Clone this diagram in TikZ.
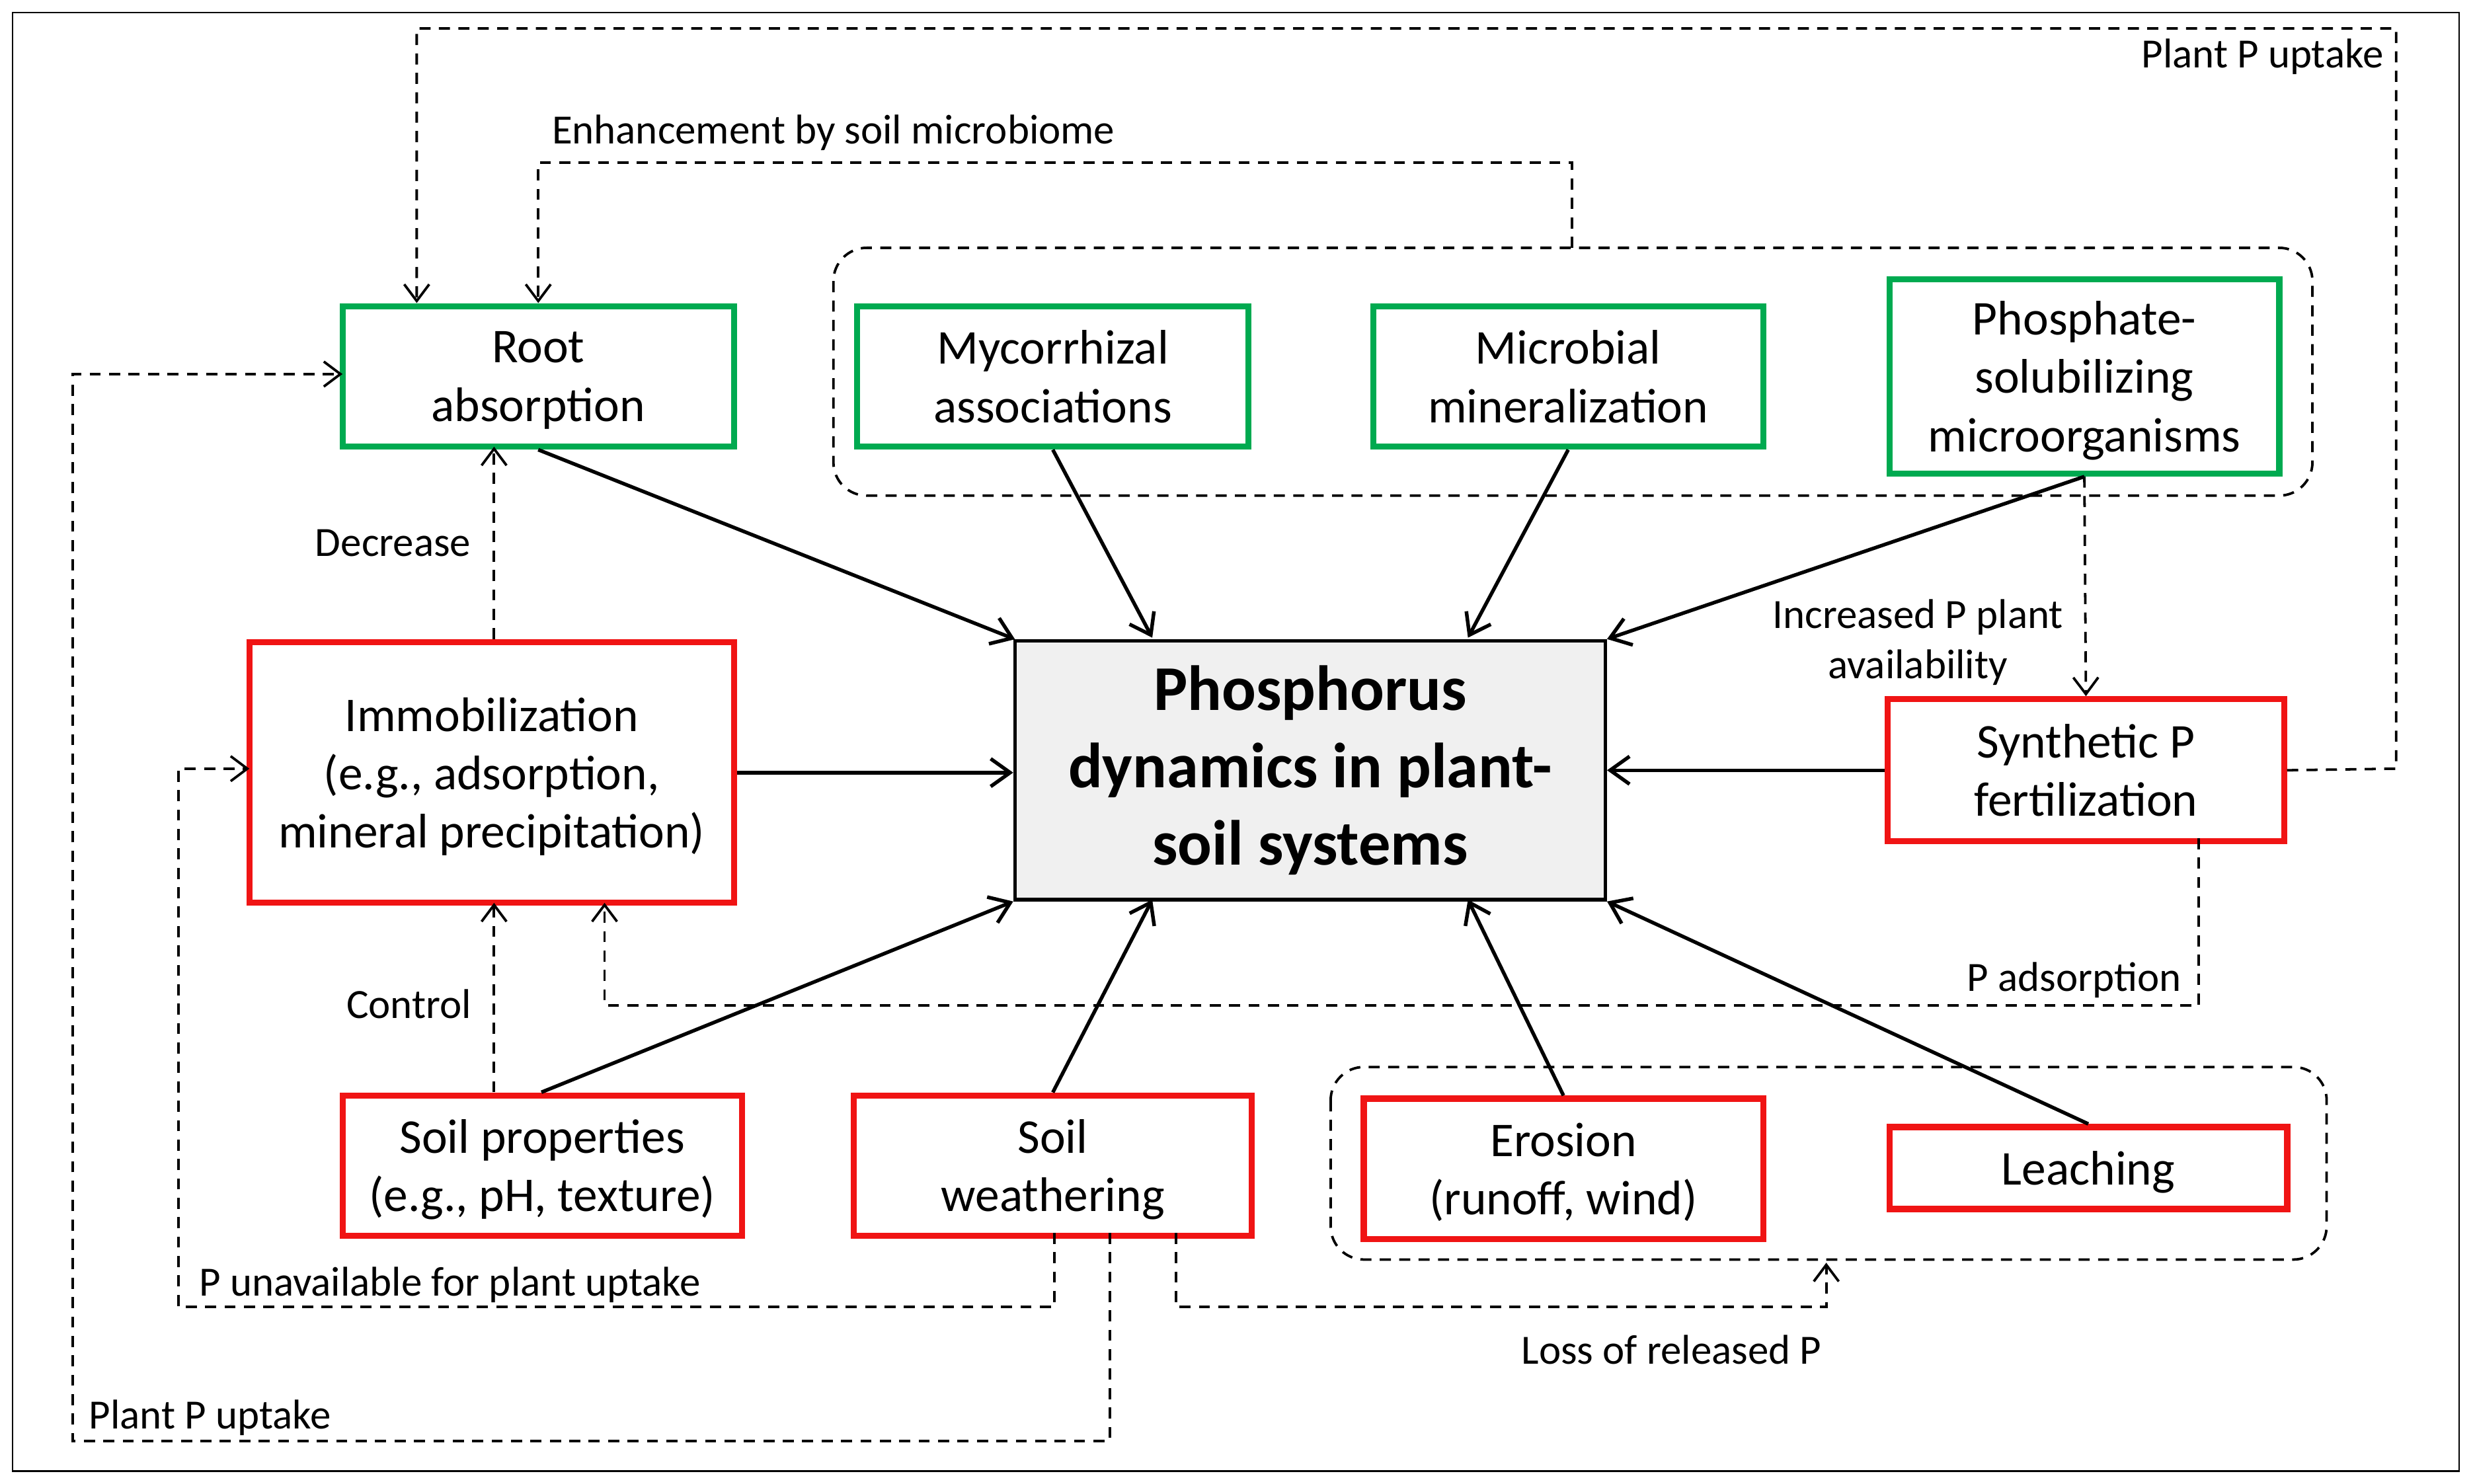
\documentclass[tikz,border=0pt]{standalone}
\usepackage{fontspec}
\setmainfont{Carlito}
\usetikzlibrary{arrows.meta}
\definecolor{gr}{RGB}{0,170,80}
\definecolor{rd}{RGB}{240,20,20}
\begin{document}
\begin{tikzpicture}[x=0.02cm,y=-0.02cm,
 box/.style={draw,line width=2.2pt,align=center,font=\fontsize{17.5}{21}\selectfont,inner sep=0pt,text depth=0pt},
 g/.style={box,draw=gr}, r/.style={box,draw=rd},
 sa/.style={line width=1.3pt,-{Straight Barb[length=7pt,width=10pt]}},
 da/.style={line width=0.9pt,dash pattern=on 4pt off 3pt,-{Straight Barb[length=6pt,width=9pt]}},
 dl/.style={line width=0.9pt,dash pattern=on 4pt off 3pt},
 lab/.style={font=\fontsize{15}{18}\selectfont,inner sep=1pt,align=center}]
\useasboundingbox (0,0) rectangle (1568,940);
\draw[line width=0.6pt] (8,8) rectangle (1558,932);
\newcommand\bx[7]{\node[#1,minimum width=(#4-#2)*0.02cm,minimum height=(#5-#3)*0.02cm] (#6) at ({(#2+#4)/2},{(#3+#5)/2+2}) {#7};}
\draw[dl,rounded corners=12pt] (528,157) rectangle (1465,314);
\draw[dl,rounded corners=12pt] (843,676) rectangle (1474,798);
\bx{g}{217}{192}{465}{281}{root}{Root\\absorption}
\bx{g}{543}{192}{791}{281}{myc}{Mycorrhizal\\associations}
\bx{g}{870}{192}{1117}{281}{mic}{Microbial\\mineralization}
\bx{g}{1197}{175}{1444}{298}{psm}{Phosphate-\\solubilizing\\microorganisms}
\node[draw,line width=1.3pt,fill=black!6,minimum width=7.48cm,minimum height=3.28cm,align=center,font=\bfseries\fontsize{23}{28}\selectfont,inner sep=0pt] (c) at (830,488) {Phosphorus\\dynamics in plant-\\soil systems};
\bx{r}{158}{405}{465}{570}{imm}{Immobilization\\(e.g., adsorption,\\mineral precipitation)}
\bx{r}{1196}{441}{1447}{531}{syn}{Synthetic P\\fertilization}
\bx{r}{217}{692}{470}{781}{sp}{Soil properties\\(e.g., pH, texture)}
\bx{r}{541}{692}{793}{781}{sw}{Soil\\weathering}
\bx{r}{864}{694}{1117}{783}{ero}{Erosion\\(runoff, wind)}
\bx{r}{1197}{712}{1449}{764}{lea}{Leaching}
\draw[sa] (root.south) -- (643,405);
\draw[sa] (myc.south) -- (730,404);
\draw[sa] (mic.south) -- (930,404);
\draw[sa] (psm.south) -- (c.north east);
\draw[sa] (imm.east) -- (c.west|-imm.east);
\draw[sa] (syn.west) -- (c.east|-syn.west);
\draw[sa] (343,692) -- (c.south west);
\draw[sa] (sw.north) -- (730,570);
\draw[sa] (ero.north) -- (930,570);
\draw[sa] (lea.north) -- (c.south east);
\draw[da] (syn.east) -- (1518,487) -- (1518,18) -- (264,18) -- (264,192);
\node[lab,anchor=east] at (1512,36) {Plant P uptake};
\draw[da] (996,157) -- (996,103) -- (341,103) -- (341,192);
\node[lab] at (528,84) {Enhancement by soil microbiome};
\draw[da] (313,405) -- (313,283);
\node[lab] at (249,344) {Decrease};
\draw[da] (psm.south) -- (syn.north);
\node[lab] at (1215,407) {Increased P plant\\availability};
\draw[da] (1393,531) -- (1393,637) -- (383,637) -- (383,572);
\node[lab] at (1314,621) {P adsorption};
\draw[da] (313,692) -- (313,572);
\node[lab] at (259,636) {Control};
\draw[da] (668,781) -- (668,828) -- (113,828) -- (113,487) -- (158,487);
\node[lab] at (285,814) {P unavailable for plant uptake};
\draw[da] (703,781) -- (703,913) -- (46,913) -- (46,237) -- (217,237);
\node[lab] at (133,898) {Plant P uptake};
\draw[da] (745,781) -- (745,828) -- (1157,828) -- (1157,800);
\node[lab] at (1059,855) {Loss of released P};
\end{tikzpicture}
\end{document}
